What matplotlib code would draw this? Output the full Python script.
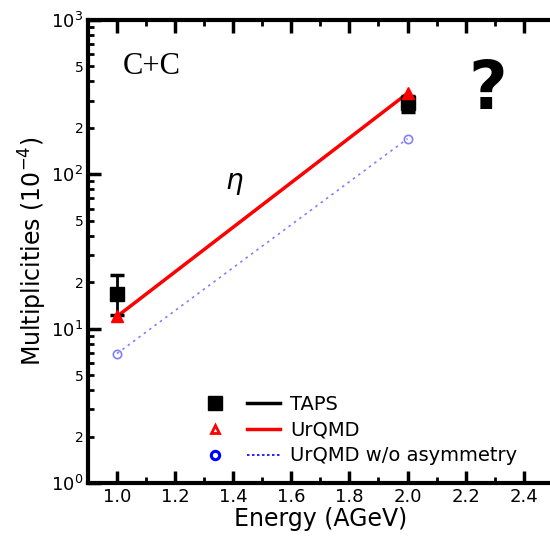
import matplotlib.pyplot as plt
from matplotlib.legend_handler import HandlerTuple
from matplotlib.lines import Line2D
from matplotlib.ticker import MultipleLocator

# data
energy = [1.0, 2.0]
taps = [16.8, 290]
taps_err_lo = [4.5, 38]
taps_err_hi = [5.5, 30]
urqmd = [12.0, 335]
urqmd_noasym = [6.9, 170]

plt.rcParams['font.family'] = ['DejaVu Sans']

fig = plt.figure(figsize=(5.5, 5.37), dpi=100)
ax = fig.add_axes([0.16, 0.1006, 0.845, 0.8622])

ax.plot(energy, urqmd_noasym, ls=(0, (1.5, 2.5)), color='#8080ff', lw=1.2,
        marker='o', mfc='none', mec='#8080ff', ms=6, mew=1.2, zorder=2)
ax.plot(energy, urqmd, '-', color='red', lw=2.5, zorder=3)
ax.errorbar(energy, taps, yerr=[taps_err_lo, taps_err_hi], fmt='s', color='black',
            ms=10, capsize=5, elinewidth=2, capthick=2.5, zorder=4)
ax.plot(energy, urqmd, '^', color='red', ms=9, ls='none', zorder=5)

ax.set_yscale('log')
ax.set_ylim(1, 1000)
ax.set_xlim(0.9, 2.5)

ax.xaxis.set_minor_locator(MultipleLocator(0.1))
ax.set_xticks([1.0, 1.2, 1.4, 1.6, 1.8, 2.0, 2.2, 2.4])
ax.set_xticklabels(['1.0', '1.2', '1.4', '1.6', '1.8', '2.0', '2.2', '2.4'])

ax.set_yticks([1, 10, 100, 1000])
ax.set_yticklabels(['$10^0$', '$10^1$', '$10^2$', '$10^3$'], fontsize=13)
minor_pos = [2, 5, 20, 50, 200, 500]
ax.set_yticks(minor_pos + [3, 4, 6, 7, 8, 9, 30, 40, 60, 70, 80, 90, 300, 400, 600, 700, 800, 900],
              minor=True)
ax.set_yticklabels(['2', '5', '2', '5', '2', '5'] + [''] * 18, minor=True, fontsize=10)

ax.tick_params(which='both', direction='in', top=True, right=False, width=2.5)
ax.tick_params(which='major', length=9, labelsize=13)
ax.tick_params(axis='y', which='minor', length=4, width=2)
ax.tick_params(axis='x', which='minor', length=4, width=2)

for side in ['left', 'bottom', 'top']:
    ax.spines[side].set_linewidth(3)
ax.spines['right'].set_linestyle((0, (2, 3)))
ax.spines['right'].set_color('#555555')
ax.spines['right'].set_linewidth(1.5)

ax.set_xlabel('Energy (AGeV)', fontsize=17, labelpad=1)
ax.set_ylabel('Multiplicities (10$^{-4}$)', fontsize=17, labelpad=1)

ax.text(1.02, 500, 'C+C', fontsize=22, family='Liberation Serif', va='center')
ax.text(1.37, 80, r'$\eta$', fontsize=20, family='serif')
ax.text(0.86, 0.848, '?', transform=ax.transAxes, fontsize=48, fontweight='bold',
        ha='center', va='center')

h_taps = (Line2D([], [], marker='s', color='black', ls='none', ms=10),
          Line2D([], [], color='black', lw=2.5))
h_urq = (Line2D([], [], marker='^', color='red', mfc='none', mew=2, ls='none', ms=6),
         Line2D([], [], color='red', lw=2.5))
h_noa = (Line2D([], [], marker='o', color='blue', mfc='none', mew=2.2, ls='none', ms=6),
         Line2D([], [], color='blue', lw=1.2, ls=(0, (1.5, 1.5))))
ax.legend([h_taps, h_urq, h_noa], ['TAPS', 'UrQMD', 'UrQMD w/o asymmetry'],
          handler_map={tuple: HandlerTuple(ndivide=None, pad=0.8)},
          loc='lower left', bbox_to_anchor=(0.2, 0.0), frameon=False,
          handlelength=4.2, fontsize=14, labelspacing=0.35, handletextpad=0.5)

fig.savefig('out.png', dpi=100)
